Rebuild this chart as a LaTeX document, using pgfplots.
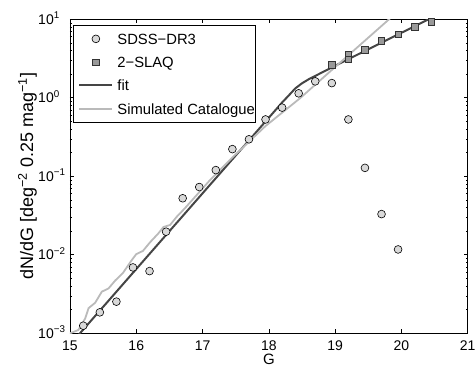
\documentclass[border=0pt]{standalone}
\usepackage{fontspec}
\setmainfont{Liberation Sans}
\usepackage{pgfplots}
\pgfplotsset{compat=1.18}
\definecolor{fitc}{gray}{0.27}
\definecolor{simc}{gray}{0.73}
\definecolor{circc}{gray}{0.85}
\definecolor{sqc}{gray}{0.6}
\pgfplotsset{
  marklegend/.style={legend image code/.code={\path[draw=none] (-5pt,0pt) -- (33pt,0pt); \draw[only marks,mark repeat=2,mark phase=2,##1] plot coordinates {(0pt,0pt) (16.5pt,0pt) (33pt,0pt)};}},
  fitlegend/.style={legend image code/.code={\path[draw=none] (-5pt,0pt) -- (33pt,0pt); \draw[fitc,line width=2pt] (0pt,0pt) -- (33pt,0pt);}},
  simlegend/.style={legend image code/.code={\path[draw=none] (-5pt,0pt) -- (33pt,0pt); \draw[simc,line width=1.8pt] (0pt,0pt) -- (33pt,0pt);}},
}
\begin{document}
\begin{tikzpicture}
\begin{axis}[
  at={(0pt,0pt)}, anchor=south west,
  width=397.7pt, height=314pt, scale only axis,
  xmin=15, xmax=21, ymin=1e-3, ymax=10, ymode=log,
  axis line style={line width=0.8pt},
  tick style={line width=0.6pt, black},
  major tick length=4pt, minor tick length=2pt,
  tick align=inside,
  xtick={15,16,17,18,19,20,21},
  ytick={1e-3,1e-2,1e-1,1,10},
  yticklabels={{10\rlap{\smash{\textsuperscript{−3}}}},{10\rlap{\smash{\textsuperscript{−2}}}},{10\rlap{\smash{\textsuperscript{−1}}}},{10\rlap{\smash{\textsuperscript{0}}}},{10\rlap{\smash{\textsuperscript{1}}}}},
  /pgf/number format/assume math mode=true,
  tick label style={font=\fontsize{14}{16}\selectfont},
  xticklabel style={inner sep=0pt, anchor=north, yshift=-7.7pt},
  yticklabel style={inner sep=0pt, anchor=east, xshift=-16pt},
  xlabel={G},
  xlabel style={at={(axis description cs:0.5,-0.0645)}, anchor=north, inner sep=0pt, font=\fontsize{15}{17}\selectfont},
  ylabel={dN/dG [deg\textsuperscript{−2} 0.25 mag\textsuperscript{−1}]},
  ylabel style={at={(axis description cs:-0.0827,0.5)}, anchor=south, inner sep=0pt, font=\fontsize{18}{20}\selectfont},
  legend cell align=left,
  legend style={at={(axis description cs:0,1)}, anchor=north west, xshift=3pt, yshift=-5.7pt,
    draw=black, line width=0.8pt, fill=white, inner xsep=1pt, inner ysep=8pt,
    row sep=12.3pt, column sep=4pt, font=\fontsize{14.8}{17}\selectfont,
    nodes={inner sep=0pt, text height=11pt, text depth=0pt}},
]
\addplot[only marks, mark=*, mark size=3.9pt, mark options={fill=circc, draw=black, line width=0.6pt}, marklegend]
coordinates {
(15.2,0.00125) (15.45,0.00185) (15.7,0.00253) (15.95,0.0069) (16.2,0.0062)
(16.45,0.0197) (16.7,0.0525) (16.95,0.073) (17.2,0.12) (17.45,0.222)
(17.7,0.296) (17.95,0.53) (18.2,0.75) (18.45,1.14) (18.7,1.62)
(18.95,1.54) (19.2,0.53) (19.45,0.128) (19.7,0.033) (19.95,0.0117)
};
\addlegendentry{SDSS−DR3}
\addplot[only marks, mark=square*, mark size=3.2pt, mark options={fill=sqc, draw=black!80, line width=0.6pt}, marklegend]
coordinates {
(18.95,2.62) (19.2,3.58) (19.2,3.09) (19.45,4.07) (19.7,5.33) (19.95,6.4) (20.2,8.06) (20.45,9.33)
};
\addlegendentry{2−SLAQ}
\addplot[fitc, line width=2pt, no marks, fitlegend]
coordinates {
(15.0,7.16e-4) (16.0,6.59e-3) (17.0,0.0607) (18.0,0.558) (18.2,0.871) (18.3,1.07)
(18.4,1.32) (18.5,1.53) (18.6,1.72) (19.0,2.56) (20.0,6.73) (20.6,12.0)
};
\addlegendentry{fit}
\addplot[simc, line width=1.8pt, no marks, simlegend]
coordinates {
(15.0,1.0e-3) (15.125,1.10e-3) (15.23,1.55e-3) (15.28,2.09e-3) (15.38,2.45e-3)
(15.48,3.39e-3) (15.58,3.72e-3) (15.68,4.68e-3) (15.80,5.89e-3) (15.93,8.51e-3)
(16.0,0.0102) (16.1,0.0112) (16.21,0.0145) (16.33,0.0186) (16.41,0.0226)
(16.51,0.0240) (16.61,0.0305) (16.73,0.0389) (16.91,0.0575) (17.11,0.0891)
(17.45,0.174) (17.95,0.437) (18.47,0.986) (19.05,2.69) (19.8,9.77) (20.1,16.2)
};
\addlegendentry{Simulated Catalogue}
\end{axis}
\pgfresetboundingbox
\path[use as bounding box] (-70pt,-33.7pt) rectangle (405pt,333.3pt);
\end{tikzpicture}
\end{document}
